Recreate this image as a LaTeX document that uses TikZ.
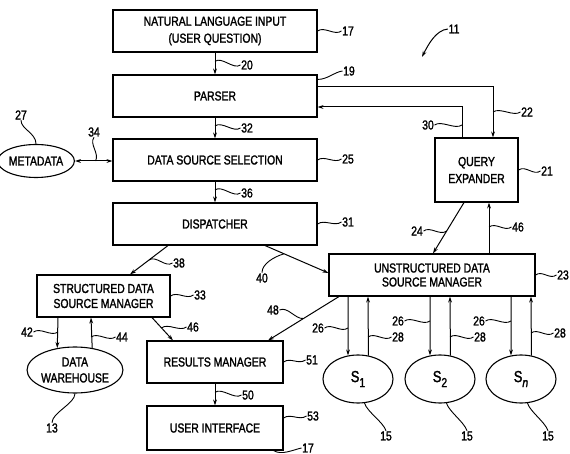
\documentclass[tikz,border=0pt]{standalone}
\usepackage{fontspec}
\setmainfont{Liberation Sans}[FakeStretch=0.8,FakeBold=1.6]
\usetikzlibrary{arrows.meta,shapes.geometric,calc}
\newcommand\diafont{\fontsize{13}{15}\selectfont}
\newcommand\labfont{\fontsize{13}{13}\selectfont}
\newcommand\sfnt[1]{{\fontsize{16}{16}\selectfont S\raisebox{-5pt}{\fontsize{13}{13}\selectfont #1}}}
\begin{document}
\begin{tikzpicture}[x=1pt,y=-1pt,
  box/.style={draw, line width=1.1pt, inner sep=0pt, align=center, font=\diafont},
  ell/.style={ellipse, draw, line width=1.1pt, inner sep=0pt, align=center, font=\diafont},
  lab/.style={inner sep=0.5pt, font=\labfont},
  arr/.style={-{Stealth[length=6pt,width=3.8pt]}, line width=1pt},
  darr/.style={{Stealth[length=6pt,width=3.8pt]}-{Stealth[length=6pt,width=3.8pt]}, line width=1pt},
  lead/.style={line width=0.9pt},
  tilde/.style={lead, to path={.. controls +(7,-5) and +(-7,5) .. (\tikztotarget)}}]
\useasboundingbox (0,0) rectangle (570,454);
\fill[white] (0,0) rectangle (570,454);

% boxes
\node[box, minimum width=204pt, minimum height=42pt, font=\fontsize{13}{17}\selectfont] (nl) at (215,31) {NATURAL LANGUAGE INPUT\\(USER QUESTION)};
\node[box, minimum width=204pt, minimum height=42pt] (parser) at (215,96) {PARSER};
\node[box, minimum width=204pt, minimum height=42pt] (dss) at (215,160) {DATA SOURCE SELECTION};
\node[box, minimum width=204pt, minimum height=42pt] (disp) at (215,224) {DISPATCHER};
\node[box, minimum width=83pt, minimum height=64pt, font=\fontsize{13}{17}\selectfont] (qe) at (476.5,170) {QUERY\\EXPANDER};
\node[box, minimum width=206pt, minimum height=42pt, font=\fontsize{13}{14}\selectfont] (udsm) at (432,275) {UNSTRUCTURED DATA\\SOURCE MANAGER};
\node[box, minimum width=133pt, minimum height=42pt] (sdsm) at (103.5,296) {STRUCTURED DATA\\SOURCE MANAGER};
\node[box, minimum width=136pt, minimum height=42pt] (rm) at (215,362) {RESULTS MANAGER};
\node[box, minimum width=136pt, minimum height=44pt] (ui) at (215,428) {USER INTERFACE};
\foreach \n in {nl,parser,dss,disp,qe,udsm,sdsm,rm,ui}
  \draw[line width=1.8pt] (\n.south west) -- (\n.south east) -- (\n.north east);

% ellipses
\node[ell, minimum width=86pt, minimum height=46pt, font=\fontsize{13}{16}\selectfont] (dw) at (75,370) {DATA\\WAREHOUSE};
\node[ell, minimum width=68pt, minimum height=33pt] (meta) at (36,161) {METADATA};
\node[ell, minimum width=70pt, minimum height=48pt] (s1) at (358,379) {\sfnt{1}};
\node[ell, minimum width=70pt, minimum height=48pt] (s2) at (440,379) {\sfnt{2}};
\node[ell, minimum width=70pt, minimum height=48pt] (sn) at (521,379) {\sfnt{\textit{n}}};

% connector end points
\coordinate (p22) at ([yshift=9pt]parser.east);
\coordinate (q22) at ([xshift=16.5pt]qe.north);
\coordinate (p30) at ([yshift=-11pt]parser.east);
\coordinate (q30) at ([xshift=-14.5pt]qe.north);
\coordinate (q24) at ([xshift=-12.5pt]qe.south);
\coordinate (u24) at ([xshift=1pt]udsm.north);
\coordinate (q46) at ([xshift=12.5pt]qe.south);
\coordinate (u46) at ([xshift=57pt]udsm.north);
\coordinate (d38) at ([xshift=-47pt]disp.south);
\coordinate (s38) at ([xshift=26.5pt]sdsm.north);
\coordinate (d40) at ([xshift=50pt]disp.south);
\coordinate (u40) at ([yshift=2pt]udsm.west);
\coordinate (s42) at ([xshift=-45.5pt]sdsm.south);
\coordinate (s44) at ([xshift=-12.5pt]sdsm.south);
\coordinate (s46) at ([xshift=48.5pt]sdsm.south);
\coordinate (r46) at ([xshift=-42pt]rm.north);
\coordinate (u48) at ([xshift=-93pt]udsm.south);
\coordinate (r48) at ([xshift=53pt]rm.north);
\coordinate (a26) at ([xshift=-84pt]udsm.south);
\coordinate (a28) at ([xshift=-64pt]udsm.south);
\coordinate (b26) at ([xshift=-2pt]udsm.south);
\coordinate (b28) at ([xshift=18pt]udsm.south);
\coordinate (c26) at ([xshift=79pt]udsm.south);
\coordinate (c28) at ([xshift=99pt]udsm.south);

% connectors
\draw[arr] (nl.south) -- (parser.north);
\draw[arr] (parser.south) -- (dss.north);
\draw[arr] (dss.south) -- (disp.north);
\draw[arr] (rm.south) -- (ui.north);
\draw[darr] (meta.east) -- (meta.east -| dss.west);
\draw[arr] (p22) -| (q22);
\draw[arr] (q30) |- (p30);
\draw[arr] (q24) -- (u24);
\draw[arr] (u46) -- (q46);
\draw[arr] (d38) -- (s38);
\draw[arr] (d40) -- (u40);
\draw[arr] (s42) -- (dw.129);
\draw[arr] (dw.52) -- (s44);
\draw[arr] (s46) -- (r46);
\draw[arr] (u48) -- (r48);
\draw[arr] (a26) -- (s1.113.5);
\draw[arr] (s1.66.5) -- (a28);
\draw[arr] (b26) -- (s2.113.5);
\draw[arr] (s2.66.5) -- (b28);
\draw[arr] (c26) -- (sn.113.5);
\draw[arr] (sn.66.5) -- (c28);

% labels
\node[lab] (l17) at (348,31) {17};
\node[lab] (l11) at (454,29) {11};
\node[lab] (l19) at (349,71) {19};
\node[lab] (l20) at (247,65) {20};
\node[lab] (l32) at (247,128) {32};
\node[lab] (l36) at (247,193) {36};
\node[lab] (l34) at (94,132) {34};
\node[lab] (l27) at (21,115) {27};
\node[lab] (l25) at (348,159) {25};
\node[lab] (l31) at (348,222) {31};
\node[lab] (l22) at (527,112) {22};
\node[lab] (l30) at (428,125) {30};
\node[lab] (l21) at (547,171) {21};
\node[lab] (l24) at (417,231) {24};
\node[lab] (l46b) at (518,227) {46};
\node[lab] (l23) at (563,275) {23};
\node[lab] (l38) at (179,263) {38};
\node[lab] (l40) at (262,278) {40};
\node[lab] (l33) at (200,295) {33};
\node[lab] (l48) at (273,310) {48};
\node[lab] (l46a) at (193,327) {46};
\node[lab] (l42) at (27,332) {42};
\node[lab] (l44) at (122,337) {44};
\node[lab] (l13) at (52,428) {13};
\node[lab] (l51) at (312,360) {51};
\node[lab] (l50) at (248,395) {50};
\node[lab] (l53) at (313,416) {53};
\node[lab] (l17b) at (308,448) {17};
\node[lab] (l26a) at (318,328) {26};
\node[lab] (l28a) at (398,337) {28};
\node[lab] (l26b) at (398,321) {26};
\node[lab] (l28b) at (480,337) {28};
\node[lab] (l26c) at (479,321) {26};
\node[lab] (l28c) at (560,333) {28};
\node[lab] (l15a) at (386,436) {15};
\node[lab] (l15b) at (467,436) {15};
\node[lab] (l15c) at (548,436) {15};

% leader coordinates on connectors
\coordinate (c20) at ($(nl.south)!0.4!(parser.north)$);
\coordinate (c32) at ($(parser.south)!0.4!(dss.north)$);
\coordinate (c36) at ($(dss.south)!0.4!(disp.north)$);
\coordinate (c50) at ($(rm.south)!0.4!(ui.north)$);
\coordinate (c34) at ($(meta.east)!0.55!(meta.east -| dss.west)$);
\coordinate (c24) at ($(q24)!0.56!(u24)$);
\coordinate (c38) at ($(d38)!0.5!(s38)$);
\coordinate (c40) at ($(d40)!0.3!(u40)$);
\coordinate (c48) at ($(u48)!0.5!(r48)$);
\coordinate (c46a) at ($(s46)!0.45!(r46)$);
\coordinate (c11) at (422,57);

% leaders
\draw[tilde] (nl.east) to (l17.west);
\draw[tilde] (c20) to (l20.west);
\draw[tilde] (c32) to (l32.west);
\draw[tilde] (c36) to (l36.west);
\draw[tilde] (dss.east) to (l25.west);
\draw[tilde] (disp.east) to (l31.west);
\draw[lead] ([yshift=-5pt]parser.north east) .. controls +(10,0) and +(-8,1) .. (l19.west);
\draw[lead] (l34.south) .. controls +(-5,7) and +(4,-8) .. (c34);
\draw[lead] (l27.south) .. controls +(0,9) and +(0,-11) .. (meta.north);
\draw[tilde] (q22 |- l22.west) to (l22.west);
\draw[tilde] (l30.east) to (q30 |- l30.east);
\draw[tilde] (qe.east) to (l21.west);
\draw[tilde] (l24.east) to (c24);
\draw[tilde] (u46 |- l46b.west) to (l46b.west);
\draw[tilde] (udsm.east) to (l23.west);
\draw[tilde] (c38) to (l38.west);
\draw[lead] (l40.north) .. controls +(0,-9) and +(-10,3) .. (c40);
\draw[tilde] (sdsm.east) to (l33.west);
\draw[lead] (l48.east) .. controls +(8,-4) and +(-8,1) .. (c48);
\draw[tilde] (c46a) to (l46a.west);
\draw[tilde] (l42.east) to (s42 |- l42.east);
\draw[tilde] (s44 |- l44.west) to (l44.west);
\draw[lead] (dw.south) .. controls +(0,10) and +(0,-10) .. (l13.north);
\draw[tilde] (rm.east) to (l51.west);
\draw[tilde] (c50) to (l50.west);
\draw[tilde] ([yshift=10pt]ui.east) to (l53.west);
\draw[lead] ([xshift=-10pt]ui.south east) .. controls +(8,5) and +(-9,2) .. (l17b.west);
\draw[tilde] (l26a.east) to (a26 |- l26a.east);
\draw[tilde] (a28 |- l28a.west) to (l28a.west);
\draw[tilde] (l26b.east) to (b26 |- l26b.east);
\draw[tilde] (b28 |- l28b.west) to (l28b.west);
\draw[tilde] (l26c.east) to (c26 |- l26c.east);
\draw[tilde] (c28 |- l28c.west) to (l28c.west);
\draw[lead] (s1.-75) .. controls +(3,9) and +(-3,-9) .. (l15a.north);
\draw[lead] (s2.-75) .. controls +(3,9) and +(-3,-9) .. (l15b.north);
\draw[lead] (sn.-75) .. controls +(3,9) and +(-3,-9) .. (l15c.north);
\draw[arr] (l11.west) .. controls +(-12,1) and +(6,-12) .. (c11);
\end{tikzpicture}
\end{document}
